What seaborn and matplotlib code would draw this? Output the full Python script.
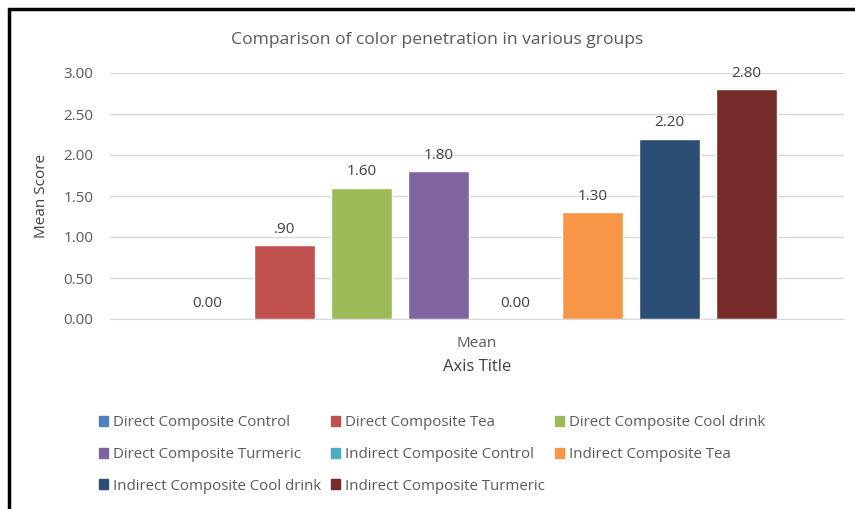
import numpy as np
import pandas as pd
import matplotlib
matplotlib.use("Agg")
import matplotlib.pyplot as plt
import seaborn as sns
from matplotlib.lines import Line2D

groups = ["Direct Composite Control", "Direct Composite Tea", "Direct Composite Cool drink",
          "Direct Composite Turmeric", "Indirect Composite Control", "Indirect Composite Tea",
          "Indirect Composite Cool drink", "Indirect Composite Turmeric"]
scores = [0.00, 0.90, 1.60, 1.80, 0.00, 1.30, 2.20, 2.80]
score_labels = ["0.00", ".90", "1.60", "1.80", "0.00", "1.30", "2.20", "2.80"]
colors = ["#4F81BD", "#C0504D", "#9BBB59", "#8064A2", "#4BACC6", "#F79646", "#2C4D75", "#772C2A"]

df = pd.DataFrame({"stat": "Mean", "group": groups, "score": scores})

sns.set_style("white")
plt.rcParams["font.family"] = ["Open Sans", "DejaVu Sans"]
grey = "#595959"

fig = plt.figure(figsize=(8.55, 5.09), dpi=100)
W, H = 855, 509
ax = fig.add_axes([110 / W, 1 - 319 / H, (844 - 110) / W, (319 - 73) / H])

sns.barplot(data=df, x="stat", y="score", hue="group", hue_order=groups,
            palette=colors, saturation=1, width=0.839, gap=0.21, ax=ax, legend=False)

for cont, lab in zip(ax.containers, score_labels):
    ax.bar_label(cont, labels=[lab], padding=6, fontsize=11, color="#404040", clip_on=False)

ax.set_xlim(-0.5, 0.5)
ax.set_ylim(0, 3)
ax.set_yticks(np.arange(0, 3.01, 0.5))
ax.set_yticklabels([f"{v:.2f}" for v in np.arange(0, 3.01, 0.5)])
ax.yaxis.grid(True, color="#d9d9d9", linewidth=1)
ax.set_axisbelow(True)
for s in ["top", "right", "left"]:
    ax.spines[s].set_visible(False)
ax.spines["bottom"].set_color("#d9d9d9")
ax.tick_params(axis="both", length=0, labelsize=11, labelcolor=grey, pad=12)
ax.tick_params(axis="x", pad=12)

ax.set_ylabel("Mean Score", fontsize=11, color="#404040", labelpad=10)
ax.set_xlabel("Axis Title", fontsize=12, color="#404040", labelpad=6)
fig.text(437 / W, 1 - 40 / H, "Comparison of color penetration in various groups",
         ha="center", va="center", fontsize=12.6, color=grey)

handles = [plt.Rectangle((0, 0), 1, 1, color=c) for c in colors]
order = [0, 3, 6, 1, 4, 7, 2, 5]
fig.legend([handles[i] for i in order], [groups[i] for i in order],
           ncol=3, loc="upper left", bbox_to_anchor=(85 / W, 1 - 402 / H),
           frameon=False, fontsize=10.8, labelcolor=grey,
           handlelength=0.65, handleheight=0.65, handletextpad=0.3,
           columnspacing=0.65, labelspacing=1.1)

fig.add_artist(Line2D([9 / W, 9 / W], [0, 1 - 9 / H], color="black", linewidth=2.5))
fig.add_artist(Line2D([9 / W, 1], [1 - 9 / H, 1 - 9 / H], color="black", linewidth=2.5))

fig.savefig("out.png", dpi=100, facecolor="white")
